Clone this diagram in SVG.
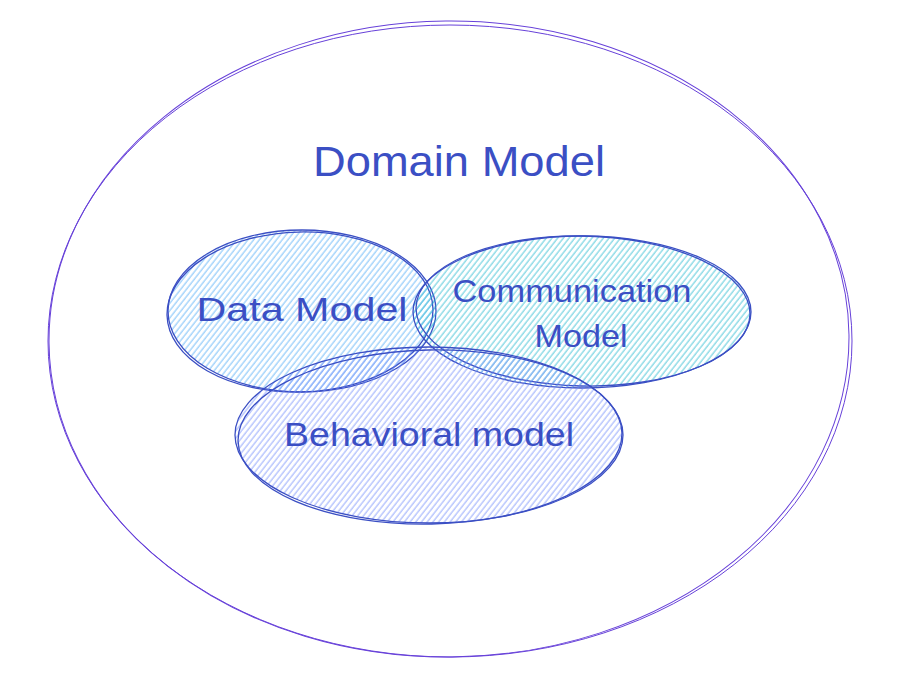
<svg xmlns="http://www.w3.org/2000/svg" width="909" height="690" viewBox="0 0 909 690">
<defs>
<pattern id="hBlue" width="4.5" height="10" patternUnits="userSpaceOnUse" patternTransform="rotate(38)">
<line x1="1" y1="0" x2="1" y2="10" stroke="#4dabf7" stroke-width="1" opacity="0.75"/>
</pattern>
<pattern id="hTeal" width="4.5" height="10" patternUnits="userSpaceOnUse" patternTransform="rotate(38)">
<line x1="1" y1="0" x2="1" y2="10" stroke="#22b8cf" stroke-width="1" opacity="0.75"/>
</pattern>
<pattern id="hIndigo" width="4.5" height="10" patternUnits="userSpaceOnUse" patternTransform="rotate(38)">
<line x1="1" y1="0" x2="1" y2="10" stroke="#748ffc" stroke-width="1" opacity="0.75"/>
</pattern>
</defs>
<style>
.lbl{font-family:"Liberation Sans","Noto Sans",sans-serif;fill:#3b4fc4;}
.edge{fill:none;stroke:#3b4fc4;stroke-width:1.3;}
.outer{fill:none;stroke:#6741d9;stroke-width:1;}
</style>
<rect width="909" height="690" fill="#ffffff"/>
<g id="domain-model">
<ellipse class="outer" cx="450" cy="341" rx="402" ry="316"/>
<ellipse class="outer" cx="449" cy="339" rx="400" ry="318" transform="rotate(-0.6 449 339)"/>
<text class="lbl" x="459" y="176" font-size="42" text-anchor="middle" textLength="292" lengthAdjust="spacingAndGlyphs">Domain Model</text>
</g>
<g id="data-model">
<ellipse cx="302" cy="311" rx="134" ry="81" fill="url(#hBlue)"/>
<ellipse class="edge" cx="302" cy="311" rx="134" ry="81"/>
<ellipse class="edge" cx="300" cy="312" rx="133" ry="80" transform="rotate(-1.5 300 312)"/>
<text class="lbl" x="302" y="321" font-size="34" text-anchor="middle" textLength="211" lengthAdjust="spacingAndGlyphs">Data Model</text>
</g>
<g id="communication-model">
<ellipse cx="582" cy="312" rx="169" ry="76" fill="url(#hTeal)"/>
<ellipse class="edge" cx="582" cy="312" rx="169" ry="76"/>
<ellipse class="edge" cx="583" cy="311" rx="167" ry="75" transform="rotate(1.2 583 311)"/>
<text class="lbl" x="572" y="302" font-size="32" text-anchor="middle" textLength="239" lengthAdjust="spacingAndGlyphs">Communication</text>
<text class="lbl" x="581" y="347" font-size="32" text-anchor="middle" textLength="93" lengthAdjust="spacingAndGlyphs">Model</text>
</g>
<g id="behavioral-model">
<ellipse cx="429" cy="435" rx="194" ry="88" fill="url(#hIndigo)"/>
<ellipse class="edge" cx="429" cy="435" rx="194" ry="88"/>
<ellipse class="edge" cx="430" cy="437" rx="192" ry="87" transform="rotate(-1.2 430 437)"/>
<text class="lbl" x="429" y="446" font-size="34" text-anchor="middle" textLength="290" lengthAdjust="spacingAndGlyphs">Behavioral model</text>
</g>
<g id="connectors"></g>
</svg>
